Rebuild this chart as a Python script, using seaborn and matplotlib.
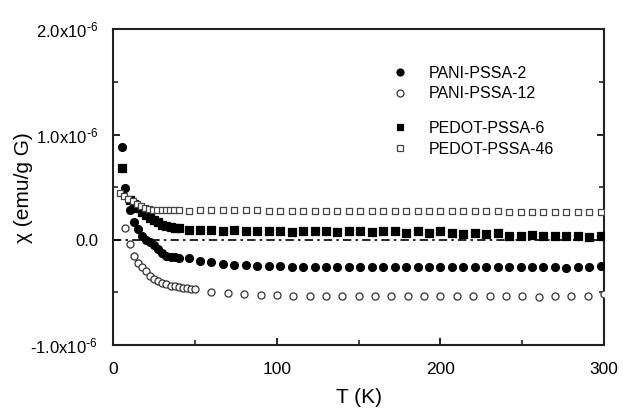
import numpy as np
import pandas as pd
import matplotlib
matplotlib.use("Agg")
import matplotlib.pyplot as plt
from matplotlib.ticker import FixedLocator, FuncFormatter
import seaborn as sns

# ---- data: magnetic susceptibility chi (in units of 1e-6 emu/g G) vs temperature T (K)
T_high = [46, 53, 60, 67, 74, 81, 88, 95, 102, 109, 116, 123, 130, 137, 144, 151,
          158, 165, 172, 179, 186, 193, 200, 207, 214, 221, 228, 235, 242, 249,
          256, 263, 270, 277, 284, 291, 298]

pani2_T = [5, 7, 10, 12.5, 15, 17.5, 20, 22.5, 25, 27.5, 30, 32.5, 35, 37.5, 40] + T_high
pani2_chi = [0.88, 0.49, 0.28, 0.17, 0.10, 0.04, 0.00, -0.02, -0.05, -0.09, -0.13,
             -0.15, -0.16, -0.165, -0.17,
             -0.175, -0.200, -0.215, -0.228, -0.238, -0.244, -0.247, -0.252, -0.253,
             -0.258, -0.259, -0.260, -0.260, -0.261, -0.258, -0.260, -0.262, -0.260,
             -0.259, -0.261, -0.262, -0.260, -0.261, -0.262, -0.260, -0.261, -0.262,
             -0.263, -0.262, -0.261, -0.262, -0.263, -0.262, -0.264, -0.262, -0.258,
             -0.245]

pani12_T = [7, 10, 12.5, 15, 17.5, 20, 22.5, 25, 27.5, 30, 32.5, 35, 37.5, 40, 42.5,
            45, 47.5, 50, 60, 70, 80, 90, 100, 110, 120, 130, 140, 150, 160, 170,
            180, 190, 200, 210, 220, 230, 240, 250, 260, 270, 280, 290, 300]
pani12_chi = [0.11, -0.04, -0.15, -0.22, -0.26, -0.30, -0.34, -0.37, -0.39, -0.41,
              -0.425, -0.435, -0.444, -0.452, -0.458, -0.463, -0.467, -0.47,
              -0.497, -0.507, -0.516, -0.523, -0.529, -0.532, -0.533, -0.532, -0.534,
              -0.535, -0.533, -0.536, -0.535, -0.537, -0.535, -0.536, -0.538, -0.536,
              -0.537, -0.539, -0.540, -0.538, -0.536, -0.533, -0.515]

pedot6_T = [5, 10, 12.5, 15, 17.5, 20, 22.5, 25, 27.5, 30, 32.5, 35, 37.5, 40] + T_high
pedot6_chi = [0.68, 0.38, 0.34, 0.30, 0.265, 0.235, 0.21, 0.185, 0.165, 0.145, 0.13,
              0.12, 0.112, 0.11,
              0.089, 0.089, 0.089, 0.082, 0.089, 0.082, 0.082, 0.082, 0.080, 0.078,
              0.079, 0.079, 0.079, 0.070, 0.079, 0.079, 0.070, 0.079, 0.079, 0.063,
              0.079, 0.063, 0.079, 0.063, 0.054, 0.063, 0.054, 0.063, 0.038, 0.038,
              0.048, 0.038, 0.038, 0.032, 0.032, 0.025, 0.038]

pedot46_T = [4, 6.5, 9, 12, 14.5, 17, 19.5, 22, 24.5, 27, 29.5, 32, 34.5, 37, 40] + T_high
pedot46_chi = [0.444, 0.418, 0.387, 0.364, 0.339, 0.317, 0.301, 0.292, 0.285, 0.285,
               0.285, 0.285, 0.285, 0.285, 0.285,
               0.276, 0.279, 0.279, 0.279, 0.279, 0.279, 0.279, 0.278, 0.278, 0.277,
               0.276, 0.276, 0.276, 0.276, 0.276, 0.275, 0.275, 0.275, 0.274, 0.274,
               0.273, 0.273, 0.272, 0.272, 0.271, 0.270, 0.270, 0.269, 0.268, 0.267,
               0.266, 0.266, 0.265, 0.264, 0.264, 0.263, 0.263]

series_names = ["PANI-PSSA-2", "PANI-PSSA-12", "PEDOT-PSSA-6", "PEDOT-PSSA-46"]
y_ticks = [-1.0, 0.0, 1.0, 2.0]
x_ticks = [0, 100, 200, 300]

frames = []
for name, t, c in zip(series_names,
                      [pani2_T, pani12_T, pedot6_T, pedot46_T],
                      [pani2_chi, pani12_chi, pedot6_chi, pedot46_chi]):
    frames.append(pd.DataFrame({"T": t, "chi": c, "sample": name}))
df = pd.concat(frames, ignore_index=True)

# ---- style
sns.set_theme(style="ticks")
plt.rcParams["font.family"] = ["Liberation Sans", "DejaVu Sans"]
plt.rcParams["mathtext.default"] = "regular"
plt.rcParams["text.color"] = "black"
plt.rcParams["axes.labelcolor"] = "black"

fig = plt.figure(figsize=(6.23, 4.12), dpi=100)
ax = fig.add_axes([0.1819, 0.1626, 0.9695 - 0.1819, 0.9289 - 0.1626])

styles = {
    "PANI-PSSA-2":   dict(marker="o", s=32, facecolor="black", edgecolor="black"),
    "PANI-PSSA-12":  dict(marker="o", s=26, facecolor="white", edgecolor="#333333"),
    "PEDOT-PSSA-6":  dict(marker="s", s=26, facecolor="black", edgecolor="black"),
    "PEDOT-PSSA-46": dict(marker="s", s=22, facecolor="white", edgecolor="#444444"),
}

ax.axhline(0, color="black", lw=1.2, ls=(0, (5, 2.5, 1.5, 2.5)), zorder=1)

handles = {}
for name in series_names:
    st = styles[name]
    sub = df[df["sample"] == name]
    sns.scatterplot(data=sub, x="T", y="chi", ax=ax, marker=st["marker"], s=st["s"],
                    color=st["facecolor"], edgecolor=st["edgecolor"], linewidth=0.9,
                    zorder=3, legend=False)
    handles[name] = plt.Line2D([], [], ls="none", marker=st["marker"],
                               markersize=5.0 if st["marker"] == "o" else 4.6,
                               markerfacecolor=st["facecolor"],
                               markeredgecolor=st["edgecolor"], markeredgewidth=0.9)

ax.set_xlim(0, 300)
ax.set_ylim(-1.0, 2.0)

ax.xaxis.set_major_locator(FixedLocator(x_ticks))
ax.xaxis.set_minor_locator(FixedLocator([50, 150, 250]))
ax.yaxis.set_major_locator(FixedLocator(y_ticks))
ax.yaxis.set_minor_locator(FixedLocator([-0.5, 0.5, 1.5]))


def fmt_y(v, pos):
    if abs(v) < 1e-9:
        return "0.0"
    sign = "-" if v < 0 else ""
    return sign + "%.1fx10$^{\\text{-}6}$" % abs(v)


ax.yaxis.set_major_formatter(FuncFormatter(fmt_y))

ax.tick_params(axis="both", which="major", direction="in", length=5, width=1.2,
               labelsize=12, colors="black")
ax.tick_params(axis="x", which="major", labelsize=12.5)
ax.tick_params(axis="both", which="minor", direction="in", length=3.5, width=1.2)
ax.tick_params(axis="x", which="both", top=False, pad=12)
ax.tick_params(axis="y", which="both", right=True, pad=11)

for sp in ax.spines.values():
    sp.set_visible(True)
    sp.set_linewidth(1.5)
    sp.set_color("#222222")

ax.set_xlabel("T (K)", fontsize=15)
ax.set_ylabel("χ (emu/g G)", fontsize=15)
ax.xaxis.set_label_coords(0.5, -0.135)
ax.yaxis.set_label_coords(-0.163, 0.5)

leg_kw = dict(loc="upper left", frameon=False, fontsize=11.5, handlelength=1.0,
              handletextpad=1.3, labelspacing=0.35, borderaxespad=0)
leg1 = ax.legend([handles[n] for n in series_names[:2]], series_names[:2],
                 bbox_to_anchor=(0.555, 0.905), **leg_kw)
ax.add_artist(leg1)
ax.legend([handles[n] for n in series_names[2:]], series_names[2:],
          bbox_to_anchor=(0.555, 0.73), **leg_kw)

fig.savefig("out.png", dpi=100)
